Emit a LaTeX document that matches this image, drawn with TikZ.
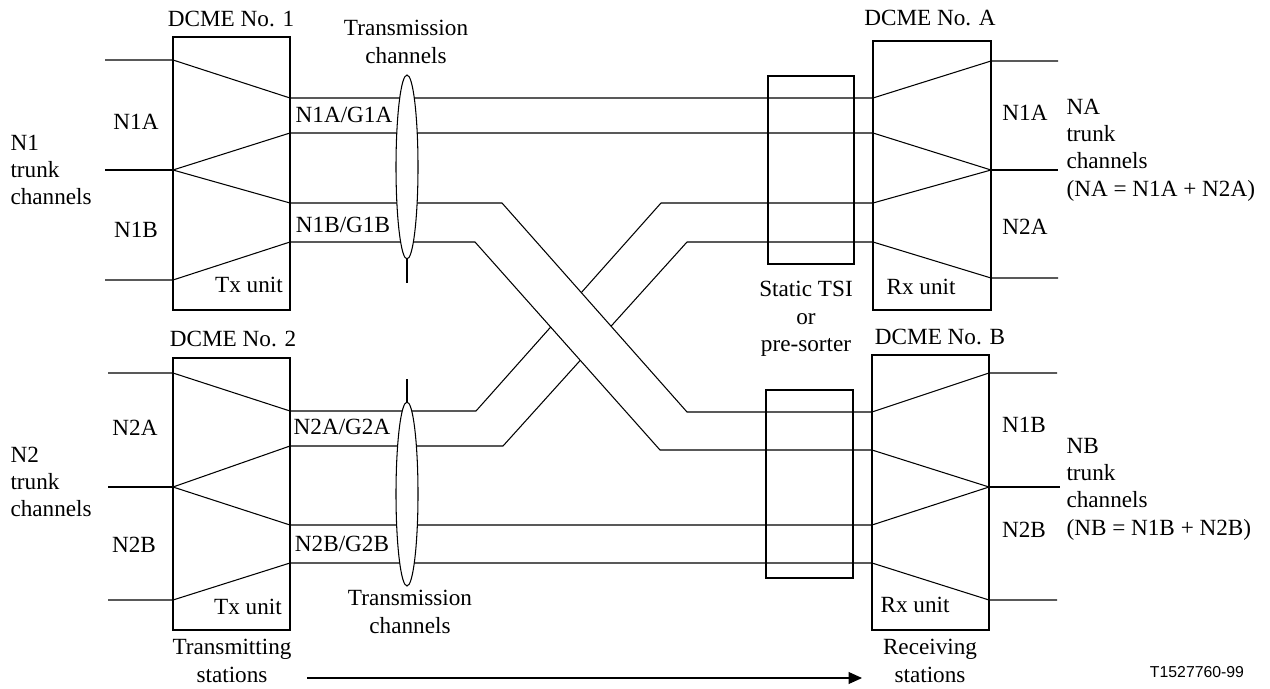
\documentclass[tikz,border=0pt]{standalone}
\usepackage{fontspec}
\setmainfont{Liberation Serif}
\newfontfamily\figidfont{Liberation Sans}
\usetikzlibrary{arrows.meta}
\begin{document}
\begin{tikzpicture}[x=0.02cm,y=-0.02cm,line width=0.6pt,
  txt/.style={inner sep=0pt,font=\fontsize{13.2}{15.6}\selectfont},
  mtxt/.style={txt,align=center},
  ltxt/.style={txt,align=left,anchor=west},
  unitbox/.style={draw},
  tsibox/.style={draw},
  chan/.style={draw},
  bundle/.style={draw,fill=white}]
\useasboundingbox (0,0) rectangle (1270,689);

% ---- boxes ----
\draw[unitbox] (173,37) rectangle (290,310);
\draw[unitbox] (173,358) rectangle (290,630);
\draw[unitbox] (873,41) rectangle (991,310);
\draw[unitbox] (872,355) rectangle (989,630);
\draw[tsibox] (768,76) rectangle (854,264);
\draw[tsibox] (766,390) rectangle (853,578);

% ---- named points ----
\coordinate (i1a) at (105,60);  \coordinate (k1a) at (173,60);
\coordinate (i1m) at (105,170); \coordinate (k1m) at (173,170);
\coordinate (i1b) at (105,280); \coordinate (k1b) at (173,280);
\coordinate (i2a) at (108,373); \coordinate (k2a) at (173,373);
\coordinate (i2m) at (108,487); \coordinate (k2m) at (173,487);
\coordinate (i2b) at (108,600); \coordinate (k2b) at (173,600);
\coordinate (kAm) at (991,170); \coordinate (oAm) at (1058,170);
\coordinate (kBm) at (989,487); \coordinate (oBm) at (1060,487);

% ---- Tx 1 ----
\draw[chan] (i1a) -- (k1a) -- (290,98) -- (873,98) -- (991,61) -- (1058,61);
\draw[chan] (i1m) -- (k1m);
\draw[chan] (k1m) -- (290,133) -- (873,133) -- (kAm);
\draw[chan] (kAm) -- (oAm);
\draw[chan] (i1b) -- (k1b) -- (290,242);

% ---- Tx 2 ----
\draw[chan] (i2a) -- (k2a) -- (290,411);
\draw[chan] (i2m) -- (k2m);
\draw[chan] (k2m) -- (290,525) -- (872,525) -- (kBm);
\draw[chan] (kBm) -- (oBm);
\draw[chan] (i2b) -- (k2b) -- (290,563) -- (872,563) -- (989,600) -- (1057,600);

% ---- crossing: N2A strand (underneath) ----
\draw[chan] (290,411) -- (476,411) -- (661,203) -- (873,203) -- (kAm);
\draw[chan] (k2m) -- (290,446) -- (503,446) -- (687,242) -- (873,242) -- (991,278) -- (1058,278);
% white band to break the under strand
\fill[white] (502,203) -- (687,412) -- (660,450) -- (475,242) -- cycle;
% ---- N1B strand (over) ----
\draw[chan] (k1m) -- (290,203) -- (502,203) -- (687,412) -- (872,412) -- (989,373) -- (1057,373);
\draw[chan] (290,242) -- (475,242) -- (660,450) -- (872,450) -- (kBm);

% ---- bundles ----
\draw (407,259) -- (407,283);
\draw[bundle] (407,167) ellipse [x radius=11,y radius=92];
\draw (407,402) -- (407,379);
\draw[bundle] (407,494) ellipse [x radius=11,y radius=92];

% ---- arrow ----
\coordinate (arS) at (307,678);
\coordinate (arE) at (862,678);
\draw[-{Triangle[length=0.27cm,width=0.24cm]}] (arS) -- (arE);

% ---- texts ----
\node[txt] (d1) at (231,19) {DCME No. 1};
\node[mtxt] (tc1) at (406,42) {Transmission\\channels};
\node[txt] (n1a) at (136,122) {N1A};
\node[txt] (n1b) at (136,230) {N1B};
\node[ltxt] (n1t) at (10,170) {N1\\trunk\\channels};
\node[txt] (g1a) at (344,115) {N1A/G1A};
\node[txt] (g1b) at (343,225) {N1B/G1B};
\node[txt] (tx1) at (249,285) {Tx unit};

\node[txt] (d2) at (233,339) {DCME No. 2};
\node[txt] (n2a) at (135,428) {N2A};
\node[txt] (n2b) at (134,545) {N2B};
\node[ltxt] (n2t) at (10,482) {N2\\trunk\\channels};
\node[txt] (g2a) at (342,427) {N2A/G2A};
\node[txt] (g2b) at (342,544) {N2B/G2B};
\node[txt] (tx2) at (248,607) {Tx unit};
\node[mtxt] (tc2) at (410,612) {Transmission\\channels};
\node[mtxt] (ts) at (232,661) {Transmitting\\stations};

\node[txt] (dA) at (930,18) {DCME No. A};
\node[mtxt] (tsi) at (806,319) {Static TSI\\or\\pre-sorter};
\node[txt] (dB) at (940,337) {DCME No. B};
\node[txt] (rxA) at (921,287) {Rx unit};
\node[txt] (rxB) at (915,605) {Rx unit};
\node[txt] (ra1) at (1025,113) {N1A};
\node[txt] (ra2) at (1025,227) {N2A};
\node[txt] (rb1) at (1024,425) {N1B};
\node[txt] (rb2) at (1024,530) {N2B};
\node[ltxt] (nat) at (1066,150) {NA\\trunk\\channels\\(NA = N1A + N2A)};
\node[ltxt] (nbt) at (1066,489) {NB\\trunk\\channels\\(NB = N1B + N2B)};
\node[mtxt] (rs) at (930,661) {Receiving\\stations};
\node[inner sep=0pt,font=\figidfont\fontsize{9}{11}\selectfont] (fid) at (1197,672) {T1527760-99};
\end{tikzpicture}
\end{document}
